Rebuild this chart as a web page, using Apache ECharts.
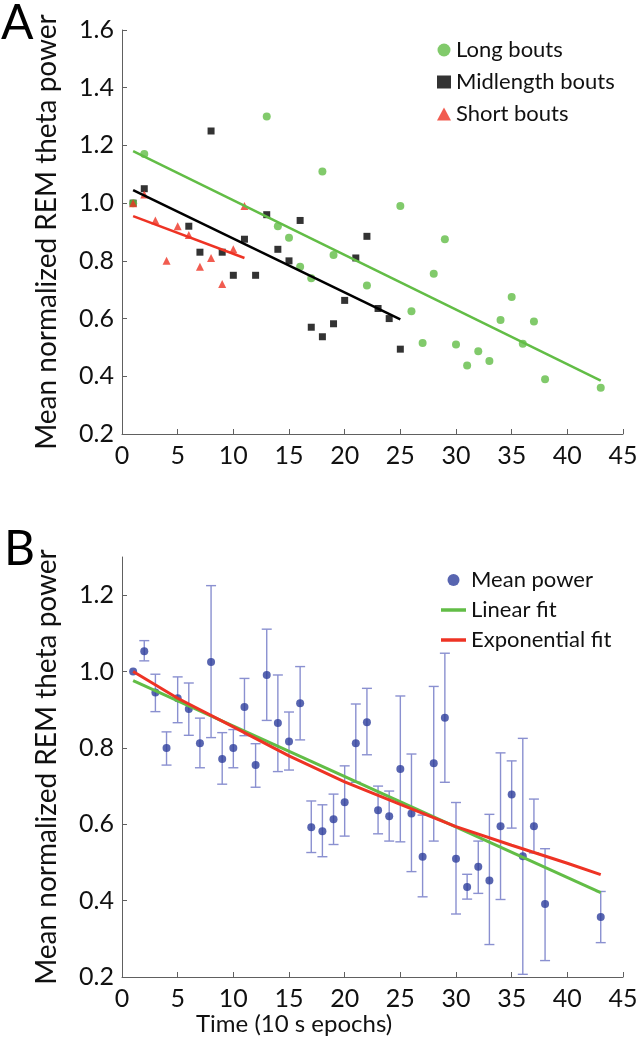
<!DOCTYPE html>
<html><head><meta charset="utf-8">
<script src="https://cdn.jsdelivr.net/npm/echarts@6/dist/echarts.min.js"></script>
<style>html,body{margin:0;padding:0;background:#fff}#c{width:644px;height:1050px}</style>
</head><body><div id="c"></div>
<script>
// ---------- Panel A data ----------
const longX  = [1, 2, 13, 14, 15, 16, 17, 18, 19, 22, 25, 26, 27, 28, 29, 30, 31, 32, 33, 34, 35, 36, 37, 38, 43];
const longY  = [1.0, 1.17, 1.30, 0.92, 0.88, 0.78, 0.74, 1.11, 0.82, 0.715, 0.99, 0.625, 0.515, 0.755, 0.875, 0.51, 0.437, 0.487, 0.453, 0.595, 0.675, 0.513, 0.59, 0.39, 0.36];
const midX   = [1, 2, 6, 7, 8, 9, 10, 11, 12, 13, 14, 15, 16, 17, 18, 19, 20, 21, 22, 23, 24, 25];
const midY   = [1.0, 1.05, 0.92, 0.83, 1.25, 0.83, 0.75, 0.875, 0.75, 0.96, 0.84, 0.80, 0.94, 0.57, 0.537, 0.582, 0.663, 0.81, 0.885, 0.635, 0.60, 0.494];
const shortX = [1, 2, 3, 4, 5, 6, 7, 8, 9, 10, 11];
const shortY = [1.0, 1.03, 0.94, 0.80, 0.92, 0.89, 0.78, 0.81, 0.72, 0.84, 0.99];
const longFitX  = [1, 43];   const longFitY  = [1.18, 0.385];
const midFitX   = [1, 25];   const midFitY   = [1.045, 0.597];
const shortFitX = [1, 11];   const shortFitY = [0.955, 0.81];

// ---------- Panel B data ----------
const epochX = [1,2,3,4,5,6,7,8,9,10,11,12,13,14,15,16,17,18,19,20,21,22,23,24,25,26,27,28,29,30,31,32,33,34,35,36,37,38,43];
const meanPow = [1.0,1.053,0.945,0.80,0.93,0.902,0.812,1.025,0.771,0.80,0.907,0.755,0.991,0.865,0.817,0.917,0.592,0.582,0.613,0.658,0.812,0.867,0.637,0.621,0.745,0.628,0.515,0.76,0.879,0.51,0.436,0.489,0.453,0.595,0.678,0.516,0.595,0.391,0.357];
const errLow  = [1.0,1.028,0.895,0.755,0.866,0.833,0.748,0.827,0.705,0.748,0.832,0.697,0.872,0.738,0.742,0.821,0.526,0.515,0.547,0.569,0.71,0.782,0.575,0.556,0.554,0.476,0.41,0.556,0.71,0.365,0.404,0.419,0.285,0.403,0.59,0.207,0.525,0.243,0.29];
const errHigh = [1.0,1.081,0.993,0.842,0.986,0.97,0.878,1.225,0.84,0.848,0.982,0.811,1.111,0.991,0.894,1.013,0.661,0.651,0.679,0.753,0.915,0.956,0.70,0.687,0.936,0.784,0.624,0.961,1.048,0.657,0.469,0.556,0.626,0.787,0.766,0.825,0.666,0.536,0.424];
const linFitX = [1, 43];  const linFitY = [0.976, 0.421];
const expFitX = [1, 5, 10, 15, 20, 25, 30, 35, 40, 43];
const expFitY = [1.0, 0.93, 0.855, 0.779, 0.711, 0.652, 0.594, 0.545, 0.498, 0.468];

// ---------- ticks ----------
const xTicks  = [0, 5, 10, 15, 20, 25, 30, 35, 40, 45];
const yTicksA = [0.2, 0.4, 0.6, 0.8, 1.0, 1.2, 1.4, 1.6];
const yTicksB = [0.2, 0.4, 0.6, 0.8, 1.0, 1.2];

const zip = (a, b) => a.map((v, i) => [v, b[i]]);
const FONT = 'Lato';
const GREEN = '#62bd46', BLACK = '#000000', RED = '#ee3324', BLUE = '#2e3f9c', ERR = '#8a90d0';
const AX = '#606060';

function xAxisCfg(gi) {
  return {
    gridIndex: gi, type: 'value', min: 0, max: 45, interval: 5,
    axisLine: {show: true, lineStyle: {color: AX, width: 1}},
    axisTick: {show: true, inside: true, length: 5, lineStyle: {color: AX}, customValues: xTicks},
    axisLabel: {color: '#111', fontSize: 25, fontFamily: FONT, margin: 9, customValues: xTicks},
    splitLine: {show: false}
  };
}
function yAxisCfg(gi, min, max, ticks) {
  return {
    gridIndex: gi, type: 'value', min: min, max: max, interval: 0.2,
    name: 'Mean normalized REM theta power', nameLocation: 'middle', nameGap: 61,
    nameTextStyle: {color: '#111', fontSize: 28, fontFamily: FONT},
    axisLine: {show: true, lineStyle: {color: AX, width: 1}},
    axisTick: {show: true, inside: true, length: 5, lineStyle: {color: AX}, customValues: ticks},
    axisLabel: {color: '#111', fontSize: 25, fontFamily: FONT, margin: 8, customValues: ticks,
                formatter: v => v.toFixed(1)},
    splitLine: {show: false}
  };
}

const chart = echarts.init(document.getElementById('c'), null, {renderer: 'canvas'});
chart.setOption({
  animation: false,
  backgroundColor: '#fff',
  grid: [
    {left: 122, width: 501, top: 30, height: 404},
    {left: 122, width: 501, top: 557, height: 420}
  ],
  xAxis: [xAxisCfg(0), xAxisCfg(1)],
  yAxis: [yAxisCfg(0, 0.2, 1.6, yTicksA), yAxisCfg(1, 0.2, 1.3, yTicksB)],
  legend: [
    {data: [{name: 'Long bouts', icon: 'circle'}, {name: 'Midlength bouts', icon: 'rect'}, {name: 'Short bouts', icon: 'triangle'}],
     orient: 'vertical', left: 432, top: 34, itemWidth: 14, itemHeight: 13, itemGap: 10,
     textStyle: {fontSize: 22, fontFamily: FONT, color: '#111'}},
    {data: [{name: 'Mean power', icon: 'circle'}, {name: 'Linear fit', icon: 'path://M0,0H25V3.5H0Z'}, {name: 'Exponential fit', icon: 'path://M0,0H25V3.5H0Z'}],
     orient: 'vertical', left: 436, top: 564, itemWidth: 25, itemHeight: 12, itemGap: 8,
     textStyle: {fontSize: 22, fontFamily: FONT, color: '#111'}}
  ],
  graphic: [
    {type: 'text', left: 1, top: 0, style: {text: 'A', fontSize: 48, fontFamily: FONT, fill: '#000'}},
    {type: 'text', left: 4, top: 526, style: {text: 'B', fontSize: 48, fontFamily: FONT, fill: '#000'}},
    {type: 'text', left: 196, top: 1012, style: {text: 'Time (10 s epochs)', fontSize: 24, fontFamily: FONT, fill: '#111'}}
  ],
  series: [
    {name: 'Midlength bouts', type: 'scatter', xAxisIndex: 0, yAxisIndex: 0, symbol: 'rect', symbolSize: 7,
     itemStyle: {color: BLACK}, data: zip(midX, midY), z: 3},
    {name: 'Long bouts', type: 'scatter', xAxisIndex: 0, yAxisIndex: 0, symbol: 'circle', symbolSize: 8,
     itemStyle: {color: GREEN}, data: zip(longX, longY), z: 3},
    {name: 'Short bouts', type: 'scatter', xAxisIndex: 0, yAxisIndex: 0, symbol: 'triangle', symbolSize: 8,
     itemStyle: {color: RED}, data: zip(shortX, shortY), z: 4},
    {name: 'Long fit', type: 'line', xAxisIndex: 0, yAxisIndex: 0, showSymbol: false, silent: true,
     lineStyle: {color: GREEN, width: 2.5}, data: zip(longFitX, longFitY), z: 5},
    {name: 'Mid fit', type: 'line', xAxisIndex: 0, yAxisIndex: 0, showSymbol: false, silent: true,
     lineStyle: {color: BLACK, width: 2.5}, data: zip(midFitX, midFitY), z: 5},
    {name: 'Short fit', type: 'line', xAxisIndex: 0, yAxisIndex: 0, showSymbol: false, silent: true,
     lineStyle: {color: RED, width: 2.5}, data: zip(shortFitX, shortFitY), z: 5},

    {name: 'SEM', type: 'custom', xAxisIndex: 1, yAxisIndex: 1, z: 2,
     data: epochX.map((x, i) => [x, errLow[i], errHigh[i]]),
     encode: {x: 0, y: [1, 2]},
     renderItem: function (params, api) {
       const x = api.value(0), lo = api.value(1), hi = api.value(2);
       if (lo === hi) return null;
       const a = api.coord([x, lo]), b = api.coord([x, hi]);
       const w = 5, st = {stroke: ERR, lineWidth: 1.4};
       return {type: 'group', children: [
         {type: 'line', shape: {x1: a[0], y1: a[1], x2: b[0], y2: b[1]}, style: st},
         {type: 'line', shape: {x1: a[0] - w, y1: a[1], x2: a[0] + w, y2: a[1]}, style: st},
         {type: 'line', shape: {x1: b[0] - w, y1: b[1], x2: b[0] + w, y2: b[1]}, style: st}
       ]};
     }},
    {name: 'Mean power', type: 'scatter', xAxisIndex: 1, yAxisIndex: 1, symbol: 'circle', symbolSize: 8,
     itemStyle: {color: BLUE}, data: zip(epochX, meanPow), z: 3},
    {name: 'Linear fit', type: 'line', xAxisIndex: 1, yAxisIndex: 1, showSymbol: false, silent: true,
     itemStyle: {color: GREEN}, lineStyle: {color: GREEN, width: 3}, data: zip(linFitX, linFitY), z: 5},
    {name: 'Exponential fit', type: 'line', xAxisIndex: 1, yAxisIndex: 1, showSymbol: false, silent: true,
     itemStyle: {color: RED}, lineStyle: {color: RED, width: 3}, data: zip(expFitX, expFitY), z: 6}
  ]
});
</script>
</body></html>
